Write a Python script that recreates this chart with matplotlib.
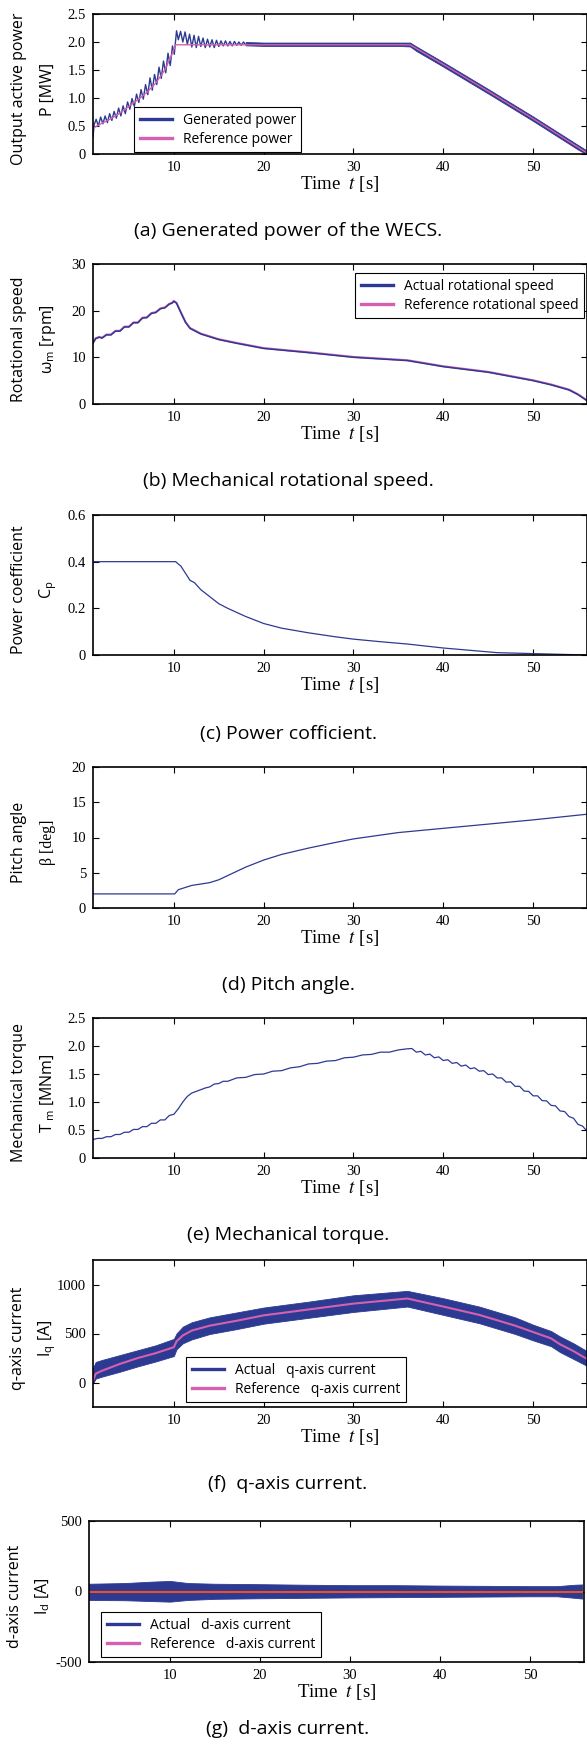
import matplotlib
matplotlib.use("Agg")
import matplotlib.pyplot as plt
from matplotlib.lines import Line2D

plt.rcParams['font.family'] = 'Open Sans'
plt.rcParams['axes.unicode_minus'] = False
plt.rcParams['mathtext.fontset'] = 'custom'
plt.rcParams['mathtext.rm'] = 'Open Sans'
plt.rcParams['mathtext.it'] = 'Open Sans:italic'

BLUE = '#2d3a92'
PINK = '#d660b0'
RED = '#f04e23'
SERIF = 'Liberation Serif'
W, H = 587, 1745

# (a) generated / reference power [MW]
p_gen_t = [1.0, 1.12, 1.35, 1.6, 1.85, 2.1, 2.35, 2.6, 2.85, 3.1, 3.35, 3.6, 3.85, 4.1,
           4.35, 4.6, 4.85, 5.1, 5.35, 5.6, 5.85, 6.1, 6.35, 6.6, 6.85, 7.1, 7.35, 7.6,
           7.85, 8.1, 8.35, 8.6, 8.85, 9.1, 9.35, 9.6, 9.85, 10.05, 10.3, 10.5, 10.75,
           11.0, 11.25, 11.5, 11.75, 12.0, 12.25, 12.5, 12.75, 13.0, 13.25, 13.5, 13.75,
           14.0, 14.25, 14.5, 14.75, 15.0, 15.25, 15.5, 15.75, 16.0, 16.25, 16.5, 16.75,
           17.0, 17.25, 17.5, 17.75, 18.0]
p_gen = [0.30, 0.52, 0.62, 0.50, 0.66, 0.54, 0.68, 0.56, 0.72, 0.60, 0.76, 0.64, 0.82, 0.68,
         0.86, 0.72, 0.93, 0.80, 0.99, 0.85, 1.07, 0.92, 1.15, 0.98, 1.24, 1.06, 1.36, 1.14,
         1.42, 1.24, 1.55, 1.35, 1.66, 1.45, 1.80, 1.58, 1.93, 1.78, 2.20, 2.04, 2.19,
         2.00, 2.18, 1.96, 2.14, 1.91, 2.12, 1.90, 2.10, 1.92, 2.07, 1.90, 2.05,
         1.91, 2.04, 1.90, 2.03, 1.92, 2.02, 1.93, 2.02, 1.93, 2.01, 1.93, 2.01,
         1.94, 2.00, 1.94, 2.00, 1.95]
p_band_t = [18, 20, 25, 30, 35, 36.3, 37, 40, 45, 50, 55, 56]
p_band_hi = [2.00, 1.99, 1.99, 1.99, 1.99, 1.99, 1.92, 1.64, 1.16, 0.67, 0.16, 0.06]
p_band_lo = [1.94, 1.93, 1.93, 1.93, 1.93, 1.92, 1.84, 1.56, 1.08, 0.59, 0.08, -0.01]
p_ref_t = [1.0, 1.1, 2, 3, 4, 5, 6, 7, 8, 9, 9.9, 10.2, 36.3, 40, 45, 50, 55, 56]
p_ref = [0.42, 0.47, 0.55, 0.63, 0.73, 0.85, 0.97, 1.10, 1.27, 1.50, 1.82, 1.95, 1.95,
         1.60, 1.12, 0.63, 0.12, 0.02]

# (b) rotational speed [rpm]
w_t = [1.0, 1.3, 1.7, 2.0, 2.5, 3.0, 3.5, 4.0, 4.5, 5.0, 5.5, 6.0, 6.5, 7.0, 7.5, 8.0,
       8.5, 9.0, 9.5, 9.8, 10.0, 10.3, 10.8, 11.3, 11.8, 12.5, 13, 14, 15, 17, 20, 25,
       30, 36, 40, 45, 50, 52, 54, 55, 56]
w_act = [13.0, 14.0, 14.3, 14.1, 14.8, 14.8, 15.6, 15.6, 16.5, 16.5, 17.4, 17.4, 18.4,
         18.5, 19.4, 19.6, 20.4, 20.6, 21.4, 21.6, 22.0, 21.6, 19.5, 17.5, 16.2, 15.5,
         15.0, 14.4, 13.8, 13.0, 11.9, 11.0, 10.0, 9.3, 8.0, 6.8, 5.0, 4.1, 3.0, 2.0, 0.7]
w_ref = [13.2, 14.1, 14.4, 14.2, 14.9, 14.9, 15.7, 15.7, 16.6, 16.6, 17.5, 17.5, 18.5,
         18.6, 19.5, 19.7, 20.5, 20.7, 21.5, 21.7, 22.1, 21.7, 19.6, 17.6, 16.3, 15.6,
         15.1, 14.5, 13.9, 13.1, 12.0, 11.1, 10.1, 9.4, 8.1, 6.9, 5.1, 4.2, 3.1, 2.1, 0.8]

# (c) power coefficient
cp_t = [1, 10.2, 10.8, 11.3, 11.8, 12.3, 13, 14, 15, 16, 18, 20, 22, 25, 28, 30, 33, 36,
        40, 43, 46, 50, 53, 56]
cp = [0.40, 0.40, 0.38, 0.35, 0.32, 0.31, 0.28, 0.25, 0.22, 0.20, 0.165, 0.135, 0.115,
      0.095, 0.078, 0.068, 0.057, 0.047, 0.030, 0.020, 0.010, 0.006, 0.003, 0.0]

# (d) pitch angle [deg]
beta_t = [1, 10.1, 10.5, 11, 11.5, 12, 13, 14, 15, 16, 18, 20, 22, 25, 28, 30, 35, 40,
          45, 50, 56]
beta = [2, 2, 2.6, 2.8, 3.0, 3.2, 3.4, 3.6, 4.0, 4.6, 5.8, 6.8, 7.6, 8.5, 9.3, 9.8, 10.7,
        11.3, 11.9, 12.5, 13.3]

# (e) mechanical torque [MNm]
tm_t = [1.0, 1.5, 2.0, 2.5, 3.0, 3.5, 4.0, 4.5, 5.0, 5.5, 6.0, 6.5, 7.0, 7.5, 8.0, 8.5,
        9.0, 9.5, 10.0, 10.5, 11.0, 11.5, 12.0, 12.5, 13.0, 13.5, 14, 14.5, 15, 15.5, 16,
        17, 18, 19, 20, 21, 22, 23, 24, 25, 26, 27, 28, 29, 30, 31, 32, 33, 34, 35, 36.0,
        36.5, 37.0, 37.5, 38.0, 38.5, 39.0, 39.5, 40.0, 40.5, 41.0, 41.5, 42.0, 42.5,
        43.0, 43.5, 44.0, 44.5, 45.0, 45.5, 46.0, 46.5, 47.0, 47.5, 48.0, 48.5, 49.0,
        49.5, 50.0, 50.5, 51.0, 51.5, 52.0, 52.5, 53.0, 53.5, 54.0, 54.5, 55.0, 55.5, 56.0]
tm = [0.33, 0.35, 0.35, 0.38, 0.38, 0.42, 0.42, 0.46, 0.46, 0.51, 0.51, 0.56, 0.56, 0.62,
      0.62, 0.68, 0.68, 0.76, 0.78, 0.88, 1.00, 1.10, 1.16, 1.19, 1.22, 1.25, 1.27, 1.32,
      1.33, 1.37, 1.37, 1.43, 1.44, 1.49, 1.50, 1.55, 1.56, 1.61, 1.63, 1.68, 1.69, 1.73,
      1.74, 1.79, 1.80, 1.84, 1.85, 1.89, 1.89, 1.93, 1.95,
      1.955, 1.89, 1.905, 1.84, 1.855, 1.79, 1.805, 1.74, 1.755, 1.69, 1.705, 1.64,
      1.66, 1.595, 1.61, 1.55, 1.56, 1.49, 1.50, 1.43, 1.43, 1.355, 1.36, 1.28,
      1.28, 1.195, 1.19, 1.11, 1.11, 1.025, 1.02, 0.94, 0.93, 0.84, 0.83, 0.74,
      0.71, 0.60, 0.57, 0.48]

# (f) q-axis current [A]
iq_t = [1.0, 1.3, 2, 4, 6, 8, 10, 10.3, 11, 12, 14, 17, 20, 25, 30, 36, 40, 44, 48, 50,
        52, 53, 54.5, 56]
iq_ref = [20, 90, 120, 190, 250, 300, 360, 420, 480, 530, 580, 630, 685, 745, 805, 857,
          775, 690, 580, 515, 450, 390, 320, 240]
iq_hi = [150, 210, 230, 280, 330, 380, 445, 500, 570, 615, 665, 715, 765, 825, 890, 935,
         860, 775, 665, 590, 525, 470, 400, 320]
iq_lo = [-10, 40, 60, 110, 165, 215, 270, 340, 400, 440, 495, 545, 600, 660, 720, 775,
         690, 605, 495, 430, 370, 310, 240, 170]

# (g) d-axis current [A]
id_t = [1, 5, 8, 10, 12, 15, 20, 25, 30, 35, 40, 45, 50, 53, 55, 55.8]
id_hi = [55, 60, 70, 75, 60, 55, 52, 48, 45, 45, 42, 40, 38, 38, 48, 50]
id_lo = [-60, -62, -68, -72, -60, -52, -48, -45, -42, -40, -38, -36, -34, -34, -45, -50]
id_ref_t = [1, 55.8]
id_ref = [0, 0]

fig = plt.figure(figsize=(W / 100, H / 100), dpi=100)


def make_axes(top, bottom, yticks, ylabels, ylim, left=93, right=587):
    ax = fig.add_axes([left / W, 1 - bottom / H, (right - left) / W, (bottom - top) / H])
    ax.set_xlim(1, 56)
    ax.set_ylim(*ylim)
    ax.set_xticks([10, 20, 30, 40, 50], ['10', '20', '30', '40', '50'],
                  fontfamily=SERIF, fontsize=10.5)
    ax.set_yticks(yticks, ylabels, fontfamily=SERIF, fontsize=10.5)
    ax.tick_params(direction='in', top=True, right=True, length=4, width=0.8, pad=5)
    for s in ax.spines.values():
        s.set_linewidth(1.2)
    fig.text((left + right) / 2 / W, 1 - (bottom + 30) / H, 'Time  $t$ [s]',
             ha='center', va='center', fontsize=13.5, family=SERIF,
             math_fontfamily='stix')
    return ax


def side_labels(top, bottom, line1, line2, family2='Open Sans', x1=19, x2=48):
    yc = 1 - ((top + bottom) / 2 + 5) / H
    fig.text(x1 / W, yc, line1, rotation=90, ha='center', va='center', fontsize=11.5)
    fig.text(x2 / W, yc, line2, rotation=90, ha='center', va='center', fontsize=11.5,
             family=family2)


def caption(y, text):
    fig.text(288 / W, 1 - y / H, text, ha='center', va='center', fontsize=14)


def legend(ax, labels, x, y, loc):
    handles = [Line2D([], [], color=BLUE, lw=2.4), Line2D([], [], color=PINK, lw=2.4)]
    leg = ax.legend(handles, labels, loc=loc, bbox_to_anchor=(x / W, 1 - y / H),
                    bbox_transform=fig.transFigure, fontsize=10, fancybox=False,
                    edgecolor='black', framealpha=1, handlelength=2.3, borderpad=0.4,
                    labelspacing=0.3, handletextpad=0.8, borderaxespad=0)
    leg.get_frame().set_linewidth(0.8)


# (a)
ax = make_axes(14, 154, [0, 0.5, 1, 1.5, 2, 2.5], ['0', '0.5', '1.0', '1.5', '2.0', '2.5'],
               (0, 2.5))
ax.plot(p_gen_t, p_gen, color=BLUE, lw=1.0)
ax.fill_between(p_band_t, p_band_lo, p_band_hi, color=BLUE, lw=0.6)
ax.plot(p_ref_t, p_ref, color=PINK, lw=1.0)
legend(ax, ['Generated power', 'Reference power'], 134, 107, 'upper left')
side_labels(14, 154, 'Output active power', 'P [MW]')
caption(231, '(a) Generated power of the WECS.')

# (b)
ax = make_axes(264, 404, [0, 10, 20, 30], ['0', '10', '20', '30'], (0, 30))
ax.plot(w_t, w_ref, color=PINK, lw=1.4)
ax.plot(w_t, w_act, color=BLUE, lw=1.1)
legend(ax, ['Actual rotational speed', 'Reference rotational speed'], 584, 273,
       'upper right')
side_labels(264, 404, 'Rotational speed', r'ω$_{\rm m}$ [rpm]')
caption(481, '(b) Mechanical rotational speed.')

# (c)
ax = make_axes(515, 655, [0, 0.2, 0.4, 0.6], ['0', '0.2', '0.4', '0.6'], (0, 0.6))
ax.plot(cp_t, cp, color=BLUE, lw=0.9)
side_labels(515, 655, 'Power coefficient', r'C$_{\rm p}$')
caption(734, '(c) Power cofficient.')

# (d)
ax = make_axes(767, 908, [0, 5, 10, 15, 20], ['0', '5', '10', '15', '20'], (0, 20))
ax.plot(beta_t, beta, color=BLUE, lw=0.9)
side_labels(767, 908, 'Pitch angle', 'β [deg]', family2=SERIF)
caption(985, '(d) Pitch angle.')

# (e)
ax = make_axes(1018, 1158, [0, 0.5, 1, 1.5, 2, 2.5],
               ['0', '0.5', '1.0', '1.5', '2.0', '2.5'], (0, 2.5))
ax.plot(tm_t, tm, color=BLUE, lw=0.9)
side_labels(1018, 1158, 'Mechanical torque', r'T$_{\rm\ m}$ [MNm]')
caption(1235, '(e) Mechanical torque.')

# (f)
ax = make_axes(1260, 1407, [0, 500, 1000], ['0', '500', '1000'], (-250, 1250))
ax.fill_between(iq_t, iq_lo, iq_hi, color=BLUE, lw=0.6)
ax.plot(iq_t, iq_ref, color=PINK, lw=1.5)
legend(ax, ['Actual   q-axis current', 'Reference   q-axis current'], 186, 1357,
       'upper left')
side_labels(1260, 1407, 'q-axis current', r'I$_{\rm q}$ [A]', x1=18, x2=47)
caption(1484, '(f)  q-axis current.')

# (g)
ax = make_axes(1521, 1662, [-500, 0, 500], ['-500', '0', '500'], (-500, 500),
               left=89, right=584)
ax.fill_between(id_t, id_lo, id_hi, color=BLUE, lw=0.6)
ax.plot(id_ref_t, id_ref, color=RED, lw=1.5)
legend(ax, ['Actual   d-axis current', 'Reference   d-axis current'], 101, 1612,
       'upper left')
side_labels(1521, 1662, 'd-axis current', r'I$_{\rm d}$ [A]', x1=15, x2=43)
caption(1729, '(g)  d-axis current.')

fig.savefig('out.png', dpi=100, facecolor='white')
